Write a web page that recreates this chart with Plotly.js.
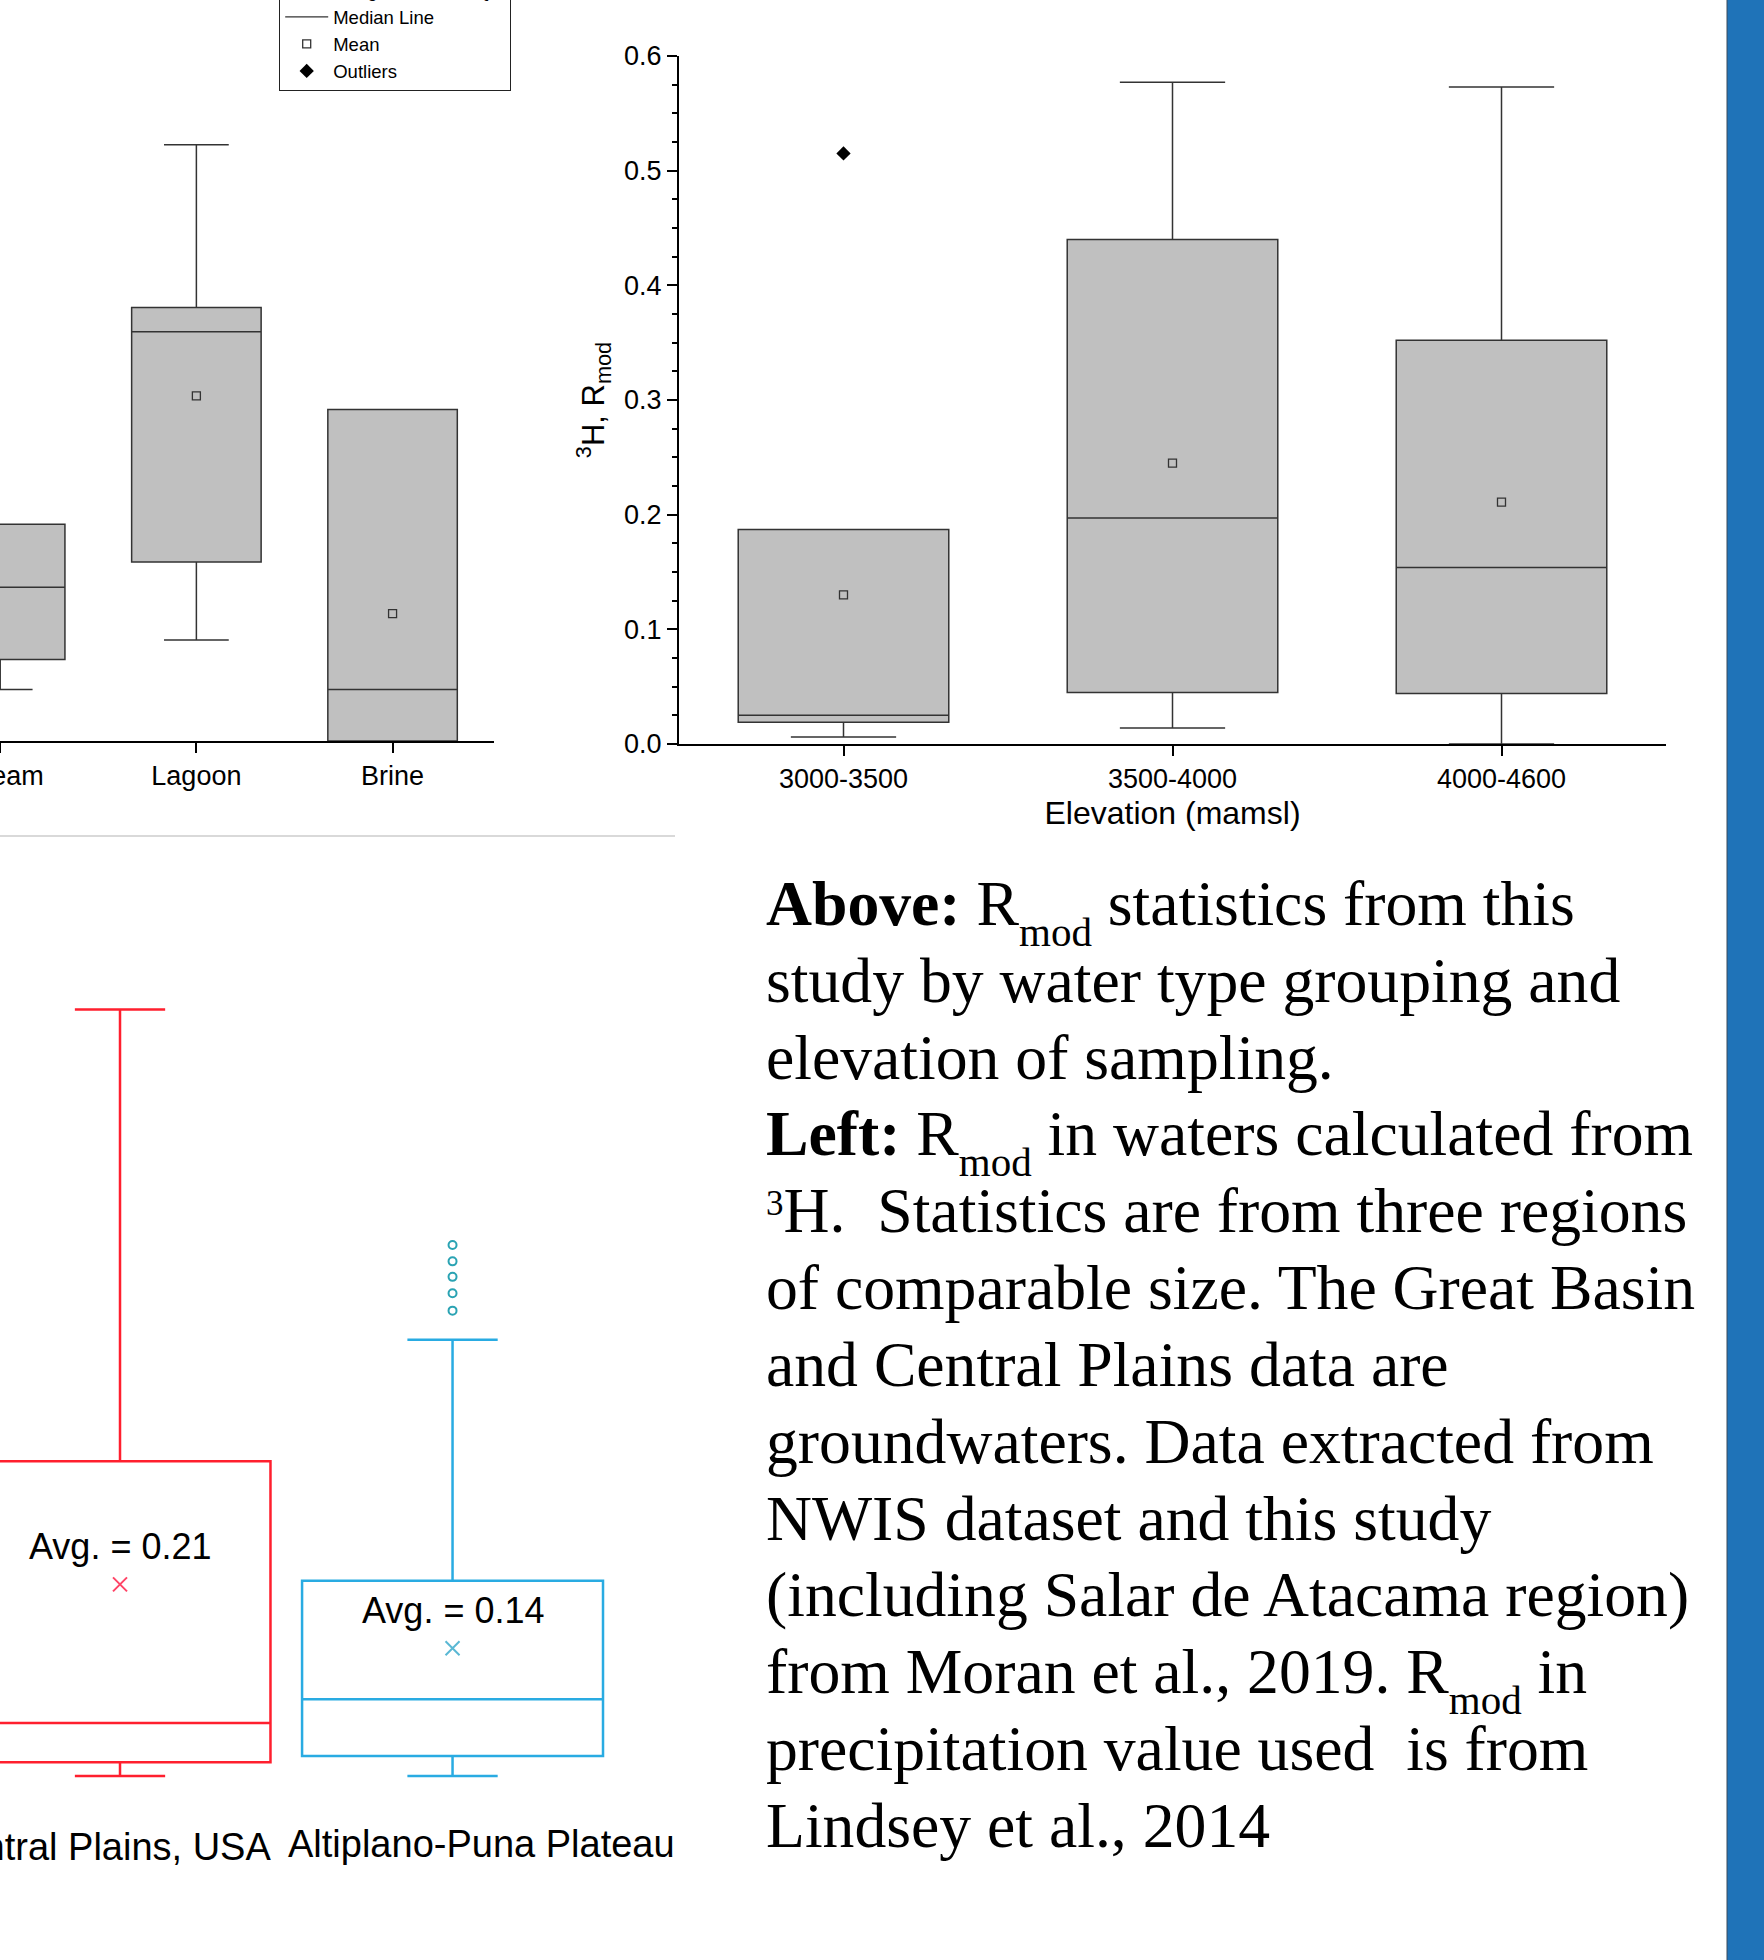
<!DOCTYPE html>
<html>
<head>
<meta charset="utf-8">
<script src="https://cdn.plot.ly/plotly-3.0.1.min.js"></script>
<style>
  html, body { margin: 0; padding: 0; background: #ffffff; }
  #chart { width: 1764px; height: 1960px; }
</style>
</head>
<body>
<div id="chart"></div>
<script>
// ---------- Top-left: R_mod by water type (cropped panel) ----------
const waterTypes = ['Stream', 'Lagoon', 'Brine'];
const wtQ1 = [0.071, 0.156, 0.0];
const wtMedian = [0.134, 0.357, 0.045];
const wtQ3 = [0.189, 0.378, 0.289];
const wtLowerWhisker = [0.045, 0.088, 0.0];
const wtUpperWhisker = [0.189, 0.520, 0.289];
const wtMean = [null, 0.301, 0.111];

// ---------- Top-right: R_mod by elevation ----------
const elevBands = ['3000-3500', '3500-4000', '4000-4600'];
const elQ1 = [0.019, 0.045, 0.044];
const elMedian = [0.025, 0.197, 0.154];
const elQ3 = [0.187, 0.440, 0.352];
const elLowerWhisker = [0.006, 0.014, 0.0];
const elUpperWhisker = [0.187, 0.577, 0.573];
const elMean = [0.130, 0.245, 0.211];
const elOutlierBand = ['3000-3500'];
const elOutlierValue = [0.515];

// ---------- Bottom-left: R_mod by region (cropped panel) ----------
const regions = ['Great Basin, USA', 'Central Plains, USA', 'Altiplano-Puna Plateau'];
const cpRegion = ['Central Plains, USA'];
const cpQ1 = [0.015];
const cpMedian = [0.058];
const cpQ3 = [0.345];
const cpLowerWhisker = [0.0];
const cpUpperWhisker = [0.840];
const cpMean = [0.21];
const apRegion = ['Altiplano-Puna Plateau'];
const apQ1 = [0.022];
const apMedian = [0.084];
const apQ3 = [0.214];
const apLowerWhisker = [0.0];
const apUpperWhisker = [0.478];
const apMean = [0.14];
const apOutliers = [0.510, 0.529, 0.547, 0.564, 0.582];

// ---------- Caption text ----------
const SUB = '<span style="font-size:41px;baseline-shift:-21px">mod</span>';
const SUP3 = '<span style="font-size:35px;baseline-shift:17px">3</span>';
const captionLines = [
  '<b>Above:</b> R' + SUB + ' statistics from this',
  'study by water type grouping and',
  'elevation of sampling.',
  '<b>Left:</b> R' + SUB + ' in waters calculated from',
  SUP3 + 'H.&nbsp; Statistics are from three regions',
  'of comparable size. The Great Basin',
  'and Central Plains data are',
  'groundwaters. Data extracted from',
  'NWIS dataset and this study',
  '(including Salar de Atacama region)',
  'from Moran et al., 2019. R' + SUB + ' in',
  'precipitation value used&nbsp; is from',
  'Lindsey et al., 2014'
];

const SANS = 'Liberation Sans, Arial, Helvetica, sans-serif';
const SERIF = 'Liberation Serif, Times New Roman, serif';
const W = 1764, H = 1960;
const px = v => v / W;
const py = v => 1 - v / H;

const greyBox = {
  type: 'box', fillcolor: '#c0c0c0',
  line: { color: '#333333', width: 1.5 },
  whiskerwidth: 0.5, boxpoints: false, showlegend: false, hoverinfo: 'skip'
};

const traces = [
  Object.assign({}, greyBox, {
    x: waterTypes, q1: wtQ1, median: wtMedian, q3: wtQ3,
    lowerfence: wtLowerWhisker, upperfence: wtUpperWhisker,
    width: 0.66, xaxis: 'x', yaxis: 'y'
  }),
  {
    type: 'scatter', mode: 'markers', x: waterTypes, y: wtMean,
    xaxis: 'x', yaxis: 'y', showlegend: false, hoverinfo: 'skip',
    marker: { symbol: 'square-open', size: 8, color: '#333333', line: { width: 1.3, color: '#333333' } }
  },
  Object.assign({}, greyBox, {
    x: elevBands, q1: elQ1, median: elMedian, q3: elQ3,
    lowerfence: elLowerWhisker, upperfence: elUpperWhisker,
    width: 0.64, xaxis: 'x2', yaxis: 'y2'
  }),
  {
    type: 'scatter', mode: 'markers', x: [null], y: [null], name: 'Range within 1.5IQR',
    xaxis: 'x2', yaxis: 'y2', legendrank: 1, hoverinfo: 'skip',
    marker: { symbol: 'line-ew-open', size: 16, color: '#333333', line: { width: 1.3, color: '#333333' } }
  },
  {
    type: 'scatter', mode: 'lines', x: [null], y: [null], name: 'Median Line',
    xaxis: 'x2', yaxis: 'y2', legendrank: 2, hoverinfo: 'skip',
    line: { color: '#333333', width: 1.3 }
  },
  {
    type: 'scatter', mode: 'markers', x: elevBands, y: elMean, name: 'Mean',
    xaxis: 'x2', yaxis: 'y2', legendrank: 3, hoverinfo: 'skip',
    marker: { symbol: 'square-open', size: 8, color: '#333333', line: { width: 1.3, color: '#333333' } }
  },
  {
    type: 'scatter', mode: 'markers', x: elOutlierBand, y: elOutlierValue, name: 'Outliers',
    xaxis: 'x2', yaxis: 'y2', legendrank: 4, hoverinfo: 'skip',
    marker: { symbol: 'diamond', size: 11, color: '#000000' }
  },
  {
    type: 'box', x: cpRegion, q1: cpQ1, median: cpMedian, q3: cpQ3,
    lowerfence: cpLowerWhisker, upperfence: cpUpperWhisker,
    xaxis: 'x3', yaxis: 'y3', width: 0.905, whiskerwidth: 0.3,
    fillcolor: 'rgba(255,255,255,0)', line: { color: '#ff1f2e', width: 2.5 },
    boxpoints: false, showlegend: false, hoverinfo: 'skip'
  },
  {
    type: 'box', x: apRegion, q1: apQ1, median: apMedian, q3: apQ3,
    lowerfence: apLowerWhisker, upperfence: apUpperWhisker,
    xaxis: 'x3', yaxis: 'y3', width: 0.905, whiskerwidth: 0.3,
    fillcolor: 'rgba(255,255,255,0)', line: { color: '#29abe2', width: 2.5 },
    boxpoints: false, showlegend: false, hoverinfo: 'skip'
  },
  {
    type: 'scatter', mode: 'markers', x: cpRegion, y: cpMean,
    xaxis: 'x3', yaxis: 'y3', showlegend: false, hoverinfo: 'skip',
    marker: { symbol: 'x-thin', size: 14, line: { color: '#ff4466', width: 2 } }
  },
  {
    type: 'scatter', mode: 'markers', x: apRegion, y: apMean,
    xaxis: 'x3', yaxis: 'y3', showlegend: false, hoverinfo: 'skip',
    marker: { symbol: 'x-thin', size: 14, line: { color: '#5ab8d4', width: 2 } }
  },
  {
    type: 'scatter', mode: 'markers', x: apOutliers.map(() => apRegion[0]), y: apOutliers,
    xaxis: 'x3', yaxis: 'y3', showlegend: false, hoverinfo: 'skip',
    marker: { symbol: 'circle-open', size: 8, color: '#2aa3b3', line: { width: 2, color: '#2aa3b3' } }
  }
];

const axisFont = { family: SANS, size: 27, color: '#000000' };
const regionLabelFont = { family: SANS, size: 38, color: '#000000' };

const annotations = [
  {
    xref: 'x3', yref: 'y3', x: cpRegion[0], y: cpMean[0], yshift: 38,
    text: 'Avg. = ' + cpMean[0].toFixed(2), showarrow: false,
    font: { family: SANS, size: 36, color: '#000000' }
  },
  {
    xref: 'x3', yref: 'y3', x: apRegion[0], y: apMean[0], yshift: 38,
    text: 'Avg. = ' + apMean[0].toFixed(2), showarrow: false,
    font: { family: SANS, size: 36, color: '#000000' }
  },
  {
    xref: 'x3', yref: 'paper', x: cpRegion[0], y: py(1847), yanchor: 'middle', xshift: -17,
    text: cpRegion[0], showarrow: false, font: regionLabelFont
  },
  {
    xref: 'x3', yref: 'paper', x: apRegion[0], y: py(1844), yanchor: 'middle', xshift: 29,
    text: apRegion[0], showarrow: false, font: regionLabelFont
  },
  {
    xref: 'paper', yref: 'paper', x: px(764), y: py(866), xanchor: 'left', yanchor: 'top',
    align: 'left', showarrow: false,
    text: captionLines.map(l => '<span style="font-size:63.7px">' + l + '</span>').join('<br>'),
    font: { family: SERIF, size: 59.1, color: '#000000' }
  }
];

const layout = {
  width: W, height: H,
  margin: { l: 0, r: 0, t: 0, b: 0, pad: 0, autoexpand: false },
  paper_bgcolor: '#ffffff', plot_bgcolor: 'rgba(0,0,0,0)',
  font: { family: SANS, color: '#000000' },
  showlegend: true,
  legend: {
    x: px(279), xanchor: 'left', y: py(91), yanchor: 'bottom',
    bgcolor: '#ffffff', bordercolor: '#222222', borderwidth: 1.2,
    font: { family: SANS, size: 18.5, color: '#000000' },
    itemwidth: 43, tracegroupgap: 0, traceorder: 'normal'
  },
  xaxis: {
    domain: [0, px(494)], anchor: 'y', type: 'category', categoryarray: waterTypes,
    range: [-0.001, 2.517], showline: true, linecolor: '#000000', linewidth: 2,
    ticks: 'outside', ticklen: 10, tickwidth: 2, tickcolor: '#000000',
    tickfont: axisFont, showgrid: false, zeroline: false, fixedrange: true
  },
  yaxis: {
    domain: [py(741), 1], anchor: 'x', range: [0, 0.6462], visible: false, fixedrange: true
  },
  xaxis2: {
    domain: [px(679), px(1666)], anchor: 'y2', type: 'category', categoryarray: elevBands,
    range: [-0.5, 2.5], showline: true, linecolor: '#000000', linewidth: 2,
    ticks: 'outside', ticklen: 10, tickwidth: 2, tickcolor: '#000000',
    tickfont: axisFont, showgrid: false, zeroline: false, fixedrange: true,
    title: { text: 'Elevation (mamsl)', font: { family: SANS, size: 32, color: '#000000' }, standoff: 8 }
  },
  yaxis2: {
    domain: [py(744), py(56)], anchor: 'x2', range: [0, 0.6], dtick: 0.1, tick0: 0,
    tickformat: '.1f', showline: true, linecolor: '#000000', linewidth: 2,
    ticks: 'outside', ticklen: 10, tickwidth: 2, tickcolor: '#000000',
    minor: { dtick: 0.025, ticks: 'outside', ticklen: 5, tickwidth: 2, tickcolor: '#000000', showgrid: false },
    tickfont: axisFont, showgrid: false, zeroline: false, fixedrange: true,
    title: { text: '<sup>3</sup>H, R<sub>mod</sub>', font: { family: SANS, size: 31, color: '#000000' }, standoff: 10 }
  },
  xaxis3: {
    domain: [0, px(675)], anchor: 'y3', type: 'category', categoryarray: regions,
    range: [0.6391, 2.669], showline: false, ticks: '', showgrid: false, zeroline: false,
    showticklabels: false, fixedrange: true
  },
  yaxis3: {
    domain: [py(1800), py(900)], anchor: 'x3', range: [-0.0263, 0.96], visible: false, fixedrange: true
  },
  shapes: [
    { type: 'line', xref: 'paper', yref: 'paper', x0: 0, x1: px(675), y0: py(836), y1: py(836),
      line: { color: '#d9d9d9', width: 2 } },
    { type: 'rect', xref: 'paper', yref: 'paper', x0: px(1727), x1: 1, y0: 0, y1: 1,
      fillcolor: '#1f73b8', line: { width: 0 } },
    { type: 'line', xref: 'paper', yref: 'paper', x0: px(1727), x1: px(1727), y0: 0, y1: 1,
      line: { color: '#3a4a5a', width: 1 } }
  ],
  annotations: annotations
};

Plotly.newPlot('chart', traces, layout, { displayModeBar: false, staticPlot: true });
</script>
</body>
</html>
